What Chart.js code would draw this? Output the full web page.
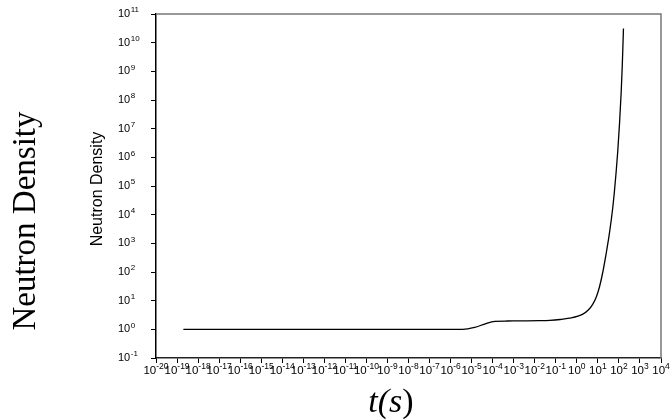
<!DOCTYPE html>
<html>
<head>
<meta charset="utf-8">
<script src="https://cdn.jsdelivr.net/npm/chart.js@4/dist/chart.umd.min.js"></script>
<style>
html,body{margin:0;padding:0;background:#fff;}
#wrap{width:671px;height:419px;position:relative;}
</style>
</head>
<body>
<div id="wrap"><canvas id="c" width="671" height="419"></canvas></div>
<script>
// ---- data ----
const timeS = [2e-19, 1e-15, 1e-10, 1e-6, 3.8e-6, 1.4e-5, 4.2e-5, 1.26e-4, 5e-4, 1.9e-3, 1.7e-2, 5.1e-2, 0.16, 0.447, 1.93, 3.5, 5.75, 8.5, 11.9, 17.1, 24.5, 35.6, 51.1, 61.5, 74.1, 88.3, 107, 128, 144.5, 164.4];
const density = [1.0, 1.0, 1.0, 1.0, 1.0, 1.17, 1.53, 1.9, 1.95, 1.97, 2.0, 2.05, 2.2, 2.45, 3.4, 4.7, 7.6, 13.8, 30, 98, 420, 2300, 17800, 6.8e4, 3.2e5, 1.66e6, 1.55e7, 1.86e8, 1.6e9, 3.1e10];
const xTickExponents = [-20,-19,-18,-17,-16,-15,-14,-13,-12,-11,-10,-9,-8,-7,-6,-5,-4,-3,-2,-1,0,1,2,3,4];
const yTickExponents = [-1,0,1,2,3,4,5,6,7,8,9,10,11];
const xTitle = ["t(", "s", ")"];
const yTitleOuter = "Neutron Density";
const yTitleInner = "Neutron Density";

const points = timeS.map((t, i) => ({x: t, y: density[i]}));

const decoPlugin = {
  id: 'deco',
  afterDraw(chart) {
    const ctx = chart.ctx;
    const xs = chart.scales.x, ys = chart.scales.y;
    const a = chart.chartArea;
    ctx.save();
    // top and right frame
    ctx.strokeStyle = '#777';
    ctx.lineWidth = 1.5;
    ctx.beginPath();
    ctx.moveTo(a.left, a.top);
    ctx.lineTo(a.right, a.top);
    ctx.lineTo(a.right, a.bottom);
    ctx.stroke();
    ctx.fillStyle = '#000';
    // y tick labels
    yTickExponents.forEach(e => {
      const py = ys.getPixelForValue(Math.pow(10, e));
      ctx.font = '11px "Liberation Sans", Arial, sans-serif';
      ctx.textAlign = 'left';
      ctx.textBaseline = 'middle';
      const x0 = 118;
      ctx.fillText('10', x0, py);
      const w = ctx.measureText('10').width;
      ctx.font = '8px "Liberation Sans", Arial, sans-serif';
      ctx.fillText(String(e), x0 + w + 0.5, py - 4);
    });
    // x tick labels
    xTickExponents.forEach(e => {
      const px = xs.getPixelForValue(Math.pow(10, e));
      ctx.font = '11.5px "Liberation Sans", Arial, sans-serif';
      const w1 = ctx.measureText('10').width;
      ctx.font = '8.5px "Liberation Sans", Arial, sans-serif';
      const sup = String(e);
      const w2 = ctx.measureText(sup).width;
      const start = px - (w1 + w2) / 2;
      ctx.textAlign = 'left';
      ctx.textBaseline = 'alphabetic';
      ctx.font = '11.5px "Liberation Sans", Arial, sans-serif';
      ctx.fillText('10', start, 374);
      ctx.font = '8.5px "Liberation Sans", Arial, sans-serif';
      ctx.fillText(sup, start + w1, 369);
    });
    // inner y title
    ctx.save();
    ctx.translate(102, 189);
    ctx.rotate(-Math.PI / 2);
    ctx.font = '16px "Liberation Sans", Arial, sans-serif';
    ctx.textAlign = 'center';
    ctx.textBaseline = 'alphabetic';
    ctx.fillText(yTitleInner, 0, 0);
    ctx.restore();
    // outer y title
    ctx.save();
    ctx.translate(35, 221);
    ctx.rotate(-Math.PI / 2);
    ctx.font = '33px "Liberation Serif", "Times New Roman", serif';
    ctx.textAlign = 'center';
    ctx.textBaseline = 'alphabetic';
    ctx.fillText(yTitleOuter, 0, 0);
    ctx.restore();
    // x title t(s)
    ctx.font = 'italic 34px "Liberation Serif", "Times New Roman", serif';
    const full = xTitle.join('');
    const tw = ctx.measureText(full).width;
    ctx.textAlign = 'left';
    ctx.textBaseline = 'alphabetic';
    let cx = 391 - tw / 2;
    ctx.fillText(xTitle[0], cx, 412);
    cx += ctx.measureText(xTitle[0]).width;
    ctx.fillText(xTitle[1], cx, 412);
    cx += ctx.measureText(xTitle[1]).width;
    ctx.font = '34px "Liberation Serif", "Times New Roman", serif';
    ctx.fillText(xTitle[2], cx, 412);
    ctx.restore();
  }
};

new Chart(document.getElementById('c'), {
  type: 'line',
  data: {
    datasets: [{
      data: points,
      borderColor: '#000',
      borderWidth: 1.3,
      pointRadius: 0,
      fill: false,
      cubicInterpolationMode: 'monotone'
    }]
  },
  options: {
    responsive: false,
    animation: false,
    events: [],
    layout: {padding: {top: 14, right: 10, left: 0, bottom: 0}},
    plugins: {legend: {display: false}, tooltip: {enabled: false}},
    scales: {
      x: {
        type: 'logarithmic',
        min: 1e-20, max: 1e4,
        afterBuildTicks(s) { s.ticks = xTickExponents.map(e => ({value: Math.pow(10, e)})); },
        afterFit(s) { s.height = 61; },
        ticks: {display: false},
        grid: {display: true, drawOnChartArea: false, drawTicks: true, tickLength: 5, color: '#000', lineWidth: 1},
        border: {display: true, color: '#222', width: 1.5}
      },
      y: {
        type: 'logarithmic',
        min: 1e-1, max: 1e11,
        afterBuildTicks(s) { s.ticks = yTickExponents.map(e => ({value: Math.pow(10, e)})); },
        afterFit(s) { s.width = 156; },
        ticks: {display: false},
        grid: {display: true, drawOnChartArea: false, drawTicks: true, tickLength: 5, color: '#000', lineWidth: 1},
        border: {display: true, color: '#000', width: 1.5}
      }
    }
  },
  plugins: [decoPlugin]
});
</script>
</body>
</html>
